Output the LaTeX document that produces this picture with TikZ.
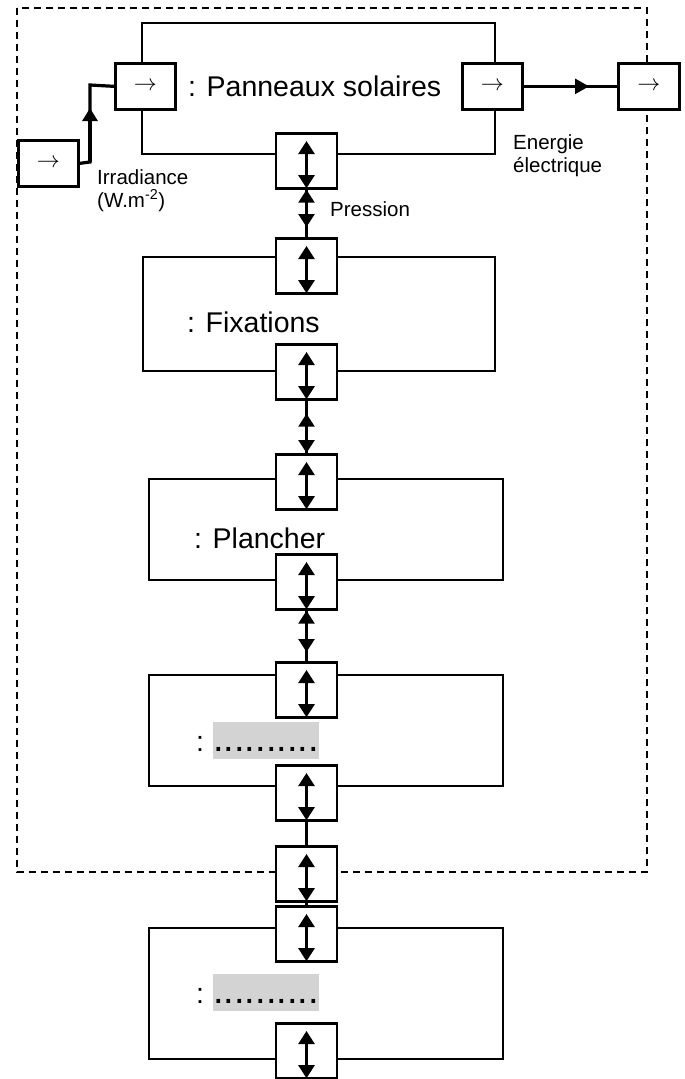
\RequirePackage{fix-cm}
\documentclass[tikz,border=0pt]{standalone}
\usepackage{fontspec}
\setmainfont{Liberation Sans}
\usetikzlibrary{arrows.meta,calc}
\definecolor{hlgrey}{HTML}{D3D3D3}
\newcommand\bigtxt{\fontsize{28.5}{34}\selectfont}
\newcommand\smtxt{\fontsize{20.5}{23.5}\selectfont}
\newcommand\arrtxt{\fontsize{23}{23}\selectfont}
\begin{document}
\begin{tikzpicture}[x=1pt,y=-1pt,
  frame/.style={draw, line width=2.2pt, dash pattern=on 7pt off 5pt},
  mainbox/.style={draw, line width=2.4pt, anchor=north west, inner sep=0},
  port/.style={draw, line width=2.7pt, fill=white, inner sep=0, minimum width=61pt, minimum height=55pt, anchor=north},
  ioport/.style={draw, line width=2.7pt, fill=white, inner sep=0, minimum width=60pt, minimum height=46pt, anchor=north west, font=\arrtxt},
  twoway/.style={line width=2.5pt, {Triangle[length=13pt,width=16pt]}-{Triangle[length=13pt,width=16pt]}},
  link/.style={line width=2.5pt},
  thicklink/.style={line width=3.2pt},
  bigl/.style={anchor=base west, inner sep=0, font=\bigtxt},
  smll/.style={anchor=base west, inner sep=0, font=\smtxt},
  greybox/.style={fill=hlgrey, anchor=north west, inner sep=0, minimum width=105pt, text height=29pt, text depth=8pt, font=\fontsize{38}{38}\selectfont}
]
\useasboundingbox (0,0) rectangle (685,1079);

% system boundary
\draw[frame] (17,8) rectangle (647,872);

% main blocks
\node[mainbox, minimum width=353pt, minimum height=131pt] (b1) at (141,22) {};
\node[mainbox, minimum width=352pt, minimum height=114pt] (b2) at (142,256) {};
\node[mainbox, minimum width=354pt, minimum height=101pt] (b3) at (148,478) {};
\node[mainbox, minimum width=354pt, minimum height=111pt] (b4) at (148,674) {};
\node[mainbox, minimum width=354pt, minimum height=131pt] (b5) at (148,927) {};

% block titles
\node[bigl] (t1) at (188,96) {: Panneaux solaires};
\node[bigl] (t2) at (187,332) {: Fixations};
\node[bigl] (t3) at (194,548) {: Plancher};
\node[bigl] (t4) at (196,751) {:};
\node[greybox] (g4) at (213,722) {..........};
\node[bigl] (t5) at (196,1003) {:};
\node[greybox] (g5) at (213,974) {..........};

% input / output ports
\node[ioport] (src) at (17,139) {$\rightarrow$};
\node[ioport] (pin) at (114,62) {$\rightarrow$};
\node[ioport] (pout) at (461,62) {$\rightarrow$};
\node[ioport, minimum width=61pt] (dst) at (617,62) {$\rightarrow$};

% vertical ports
\foreach \n/\t in {p1b/132, p2t/237, p2b/343, p3t/453, p3b/553, p4t/661, p4b/764, pd/845, p5t/905, p5b/1022}{
  \node[port] (\n) at (306.5,\t) {};
  \draw[twoway, shorten <=9pt, shorten >=1.5pt] (\n.north) -- (\n.south);
}

% irradiance connector
\coordinate (k1) at (90,162);
\coordinate (k2) at (90,85);
\draw[thicklink] (src.east) -- (k1) -- (k2) -- (pin.west);
\draw[thicklink, -{Triangle[length=13pt,width=15pt]}] (k1) -- ($(k1)!0.70!(k2)$);

% electrical energy connector
\draw[link] (pout.east) -- (dst.west);
\draw[link, -{Triangle[length=14pt,width=15pt]}] (pout.east) -- ($(pout.east)!0.70!(dst.west)$);

% chain connectors
\draw[link] (p1b.south) -- (p2t.north);
\draw[twoway, shorten >=10pt] (p1b.south) -- (p2t.north);
\draw[link] (p2b.south) -- (p3t.north);
\draw[twoway, shorten <=13pt] (p2b.south) -- (p3t.north);
\draw[link] (p3b.south) -- (p4t.north);
\draw[twoway, shorten >=9pt] (p3b.south) -- (p4t.north);
\draw[link] (p4b.south) -- (pd.north);
\draw[link] (pd.south) -- (p5t.north);

% labels
\node[smll] (irr1) at (97,184) {Irradiance};
\node[smll] (irr2) at (97,207) {(W.m\textsuperscript{-2})};
\node[smll] (en1) at (513,149) {Energie};
\node[smll] (en2) at (513,172) {électrique};
\node[smll] (pr) at (330,216) {Pression};
\end{tikzpicture}
\end{document}
